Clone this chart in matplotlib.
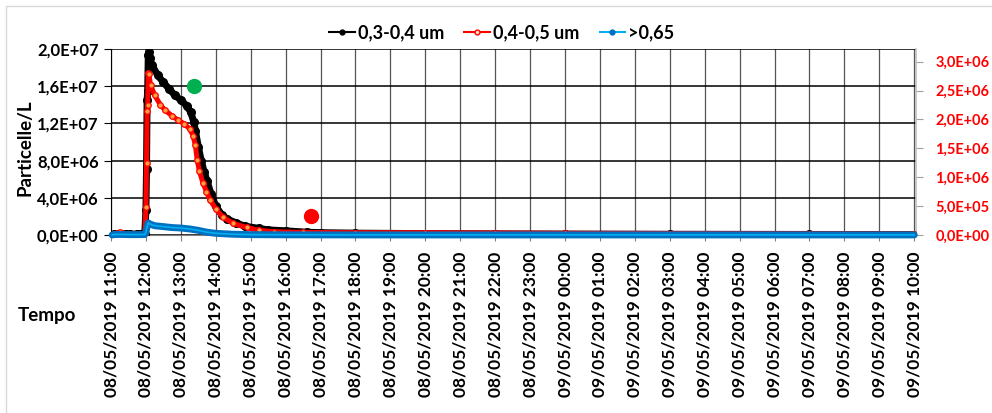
import numpy as np
import pandas as pd
import matplotlib
matplotlib.use("Agg")
import matplotlib.pyplot as plt
import matplotlib.dates as mdates
from matplotlib.lines import Line2D
from matplotlib.patches import Rectangle
from matplotlib.ticker import FuncFormatter

plt.rcParams["font.family"] = ["Lato", "DejaVu Sans"]
plt.rcParams["font.weight"] = "bold"

# ---------------------------------------------------------------- data
# 0,3-0,4 um (left axis, particelle/L)
t_small = ["08/05/2019 11:05", "08/05/2019 11:15", "08/05/2019 11:25", "08/05/2019 11:32",
           "08/05/2019 11:44", "08/05/2019 11:52", "08/05/2019 11:58", "08/05/2019 12:00",
           "08/05/2019 12:01", "08/05/2019 12:02", "08/05/2019 12:03", "08/05/2019 12:04",
           "08/05/2019 12:05", "08/05/2019 12:07", "08/05/2019 12:10", "08/05/2019 12:20",
           "08/05/2019 12:30", "08/05/2019 12:40", "08/05/2019 12:50", "08/05/2019 13:00",
           "08/05/2019 13:10", "08/05/2019 13:17", "08/05/2019 13:22", "08/05/2019 13:25",
           "08/05/2019 13:30", "08/05/2019 13:35", "08/05/2019 13:40", "08/05/2019 13:45",
           "08/05/2019 13:52", "08/05/2019 14:00", "08/05/2019 14:10", "08/05/2019 14:20",
           "08/05/2019 14:35", "08/05/2019 14:50", "08/05/2019 15:15", "08/05/2019 15:30",
           "08/05/2019 16:00", "08/05/2019 16:37", "08/05/2019 17:00", "08/05/2019 18:00",
           "08/05/2019 20:00", "08/05/2019 22:00", "09/05/2019 00:00", "09/05/2019 03:00",
           "09/05/2019 07:00", "09/05/2019 10:00"]
v_small = [1.0e5, 1.5e5, 1.2e5, 1.0e5,
           1.0e5, 1.2e5, 1.5e5, 2.7e6,
           7.1e6, 1.45e7, 1.55e7, 1.93e7,
           1.97e7, 1.90e7, 1.83e7, 1.72e7,
           1.64e7, 1.57e7, 1.50e7, 1.45e7,
           1.39e7, 1.32e7, 1.22e7, 1.12e7,
           9.5e6, 8.0e6, 6.8e6, 5.8e6,
           4.4e6, 3.1e6, 2.2e6, 1.7e6,
           1.3e6, 9.5e5, 7.0e5, 5.5e5,
           4.5e5, 3.0e5, 2.5e5, 2.0e5,
           1.5e5, 1.2e5, 1.0e5, 8.0e4,
           6.0e4, 5.0e4]

# 0,4-0,5 um (right axis)
t_mid = ["08/05/2019 11:05", "08/05/2019 11:15", "08/05/2019 11:25", "08/05/2019 11:32",
         "08/05/2019 11:44", "08/05/2019 11:58", "08/05/2019 12:00", "08/05/2019 12:01",
         "08/05/2019 12:02", "08/05/2019 12:03", "08/05/2019 12:04", "08/05/2019 12:05",
         "08/05/2019 12:08", "08/05/2019 12:15", "08/05/2019 12:25", "08/05/2019 12:33",
         "08/05/2019 12:45", "08/05/2019 12:55", "08/05/2019 13:05", "08/05/2019 13:15",
         "08/05/2019 13:21", "08/05/2019 13:25", "08/05/2019 13:28", "08/05/2019 13:32",
         "08/05/2019 13:38", "08/05/2019 13:44", "08/05/2019 13:50", "08/05/2019 14:00",
         "08/05/2019 14:12", "08/05/2019 14:30", "08/05/2019 14:53", "08/05/2019 15:15",
         "08/05/2019 15:40", "08/05/2019 16:30", "08/05/2019 18:00", "08/05/2019 20:00",
         "08/05/2019 22:00", "09/05/2019 00:00", "09/05/2019 04:00", "09/05/2019 10:00"]
v_mid = [2.0e4, 5.0e4, 2.0e4, 1.5e4,
         1.5e4, 2.0e4, 4.9e5, 1.25e6,
         2.15e6, 2.25e6, 2.80e6, 2.78e6,
         2.60e6, 2.42e6, 2.25e6, 2.16e6,
         2.06e6, 1.99e6, 1.93e6, 1.84e6,
         1.72e6, 1.55e6, 1.30e6, 1.10e6,
         9.0e5, 7.5e5, 6.1e5, 4.5e5,
         3.1e5, 2.0e5, 1.3e5, 8.0e4,
         5.5e4, 4.5e4, 4.0e4, 4.0e4,
         3.5e4, 3.0e4, 2.5e4, 2.0e4]

# >0,65 (left axis)
t_big = ["08/05/2019 11:02", "08/05/2019 11:05", "08/05/2019 11:15", "08/05/2019 11:25",
         "08/05/2019 11:33", "08/05/2019 11:44", "08/05/2019 11:58", "08/05/2019 12:00",
         "08/05/2019 12:02", "08/05/2019 12:04", "08/05/2019 12:08", "08/05/2019 12:15",
         "08/05/2019 12:30", "08/05/2019 12:45", "08/05/2019 13:00", "08/05/2019 13:15",
         "08/05/2019 13:30", "08/05/2019 13:45", "08/05/2019 14:00", "08/05/2019 14:30",
         "08/05/2019 15:00", "08/05/2019 16:00", "08/05/2019 18:00", "09/05/2019 10:00"]
v_big = [0.0, 5.0e4, 6.0e4, 5.0e4,
         4.0e4, 4.0e4, 5.0e4, 3.0e5,
         9.0e5, 1.3e6, 1.15e6, 1.0e6,
         9.0e5, 8.0e5, 7.5e5, 6.5e5,
         5.0e5, 3.0e5, 1.8e5, 8.0e4,
         4.0e4, 2.0e4, 1.0e4, 1.0e4]

# highlighted points
green_pt = ("08/05/2019 13:22", 1.6e7)
red_pt = ("08/05/2019 16:43", 2.0e6)

labels = ["0,3-0,4 um", "0,4-0,5 um", ">0,65"]

fmt = "%d/%m/%Y %H:%M"
ts = lambda s: pd.to_datetime(s, format=fmt)

BLACK = "#000000"
RED = "#ff0000"
ORANGE = "#ff9f40"
LBLUE = "#00b0f0"
DBLUE = "#0070c0"

# ---------------------------------------------------------------- figure
fig = plt.figure(figsize=(9.92, 4.13), dpi=100)
fig.patches.append(Rectangle((6 / 992, -0.1), 1.2, 1.1 - 6 / 413, transform=fig.transFigure,
                             fill=False, edgecolor="#d9d9d9", lw=1))

ax = fig.add_axes([0.1119, 0.431, 0.8115, 0.4504])
ax2 = ax.twinx()   # secondary scale for 0,4-0,5 um
ax3 = ax.twinx()   # primary scale again, drawn on top

x0 = ts("08/05/2019 11:00")
x1 = ts("09/05/2019 10:00") + pd.Timedelta(minutes=3)
for a in (ax, ax2, ax3):
    a.set_xlim(x0, x1)

ax.set_ylim(0, 2e7)
ax3.set_ylim(0, 2e7)
ax2.set_ylim(0, 3.22e6)

sci = FuncFormatter(lambda v, p: f"{v:.1E}".replace(".", ","))
ax.set_yticks(np.arange(0, 2.0e7 + 1, 4e6))
ax.yaxis.set_major_formatter(sci)
ax2.set_yticks(np.arange(0, 3.0e6 + 1, 5e5))
ax2.yaxis.set_major_formatter(sci)

ax.xaxis.set_major_locator(mdates.HourLocator(interval=1))
ax.xaxis.set_major_formatter(mdates.DateFormatter(fmt))
ax.tick_params(axis="x", labelrotation=90, labelsize=12.5, length=4, pad=8, color="#808080")
ax.tick_params(axis="y", labelsize=12, length=5, pad=4, color=BLACK)
ax2.tick_params(axis="y", labelsize=10.5, length=5, pad=9, color="#a0a0a0", labelcolor=RED)

ax.yaxis.grid(True, color=BLACK, lw=1.1)
ax.xaxis.grid(True, color="#555555", lw=0.9)
ax.set_axisbelow(True)

for s in ("top", "right"):
    ax.spines[s].set_visible(False)
ax.spines["left"].set_color(BLACK)
ax.spines["bottom"].set_color("#808080")
for s in ("top", "left", "bottom"):
    ax2.spines[s].set_visible(False)
ax2.spines["right"].set_color("#bfbfbf")
ax2.spines["right"].set_linewidth(1.2)
for s in ax3.spines.values():
    s.set_visible(False)
ax3.yaxis.set_visible(False)
ax2.xaxis.set_visible(False)
ax3.xaxis.set_visible(False)

# 0,3-0,4 um: lowest layer
ax.plot(ts(t_small), v_small, color=BLACK, lw=5, solid_capstyle="round", zorder=3)
ax.plot(ts(t_small), v_small, "o", ms=5.5, color=BLACK, zorder=3)

# 0,4-0,5 um on the secondary scale, above the black series
ax2.plot(ts(t_mid), v_mid, color=RED, lw=3.6, solid_capstyle="round", zorder=3)
ax2.plot(ts(t_mid), v_mid, "o", ms=4, mec=RED, mfc=ORANGE, mew=0.9, zorder=4)

# >0,65 on top; the dense markers spill a little below the zero line
ax3.plot(ts(t_big), v_big, color=DBLUE, lw=5, solid_capstyle="round", zorder=4,
         clip_on=False)
ax3.plot(ts(t_big), v_big, color=LBLUE, lw=1.2, zorder=5, clip_on=False)

ax3.plot(ts(green_pt[0]), green_pt[1], "o", ms=10, color="#00b050", zorder=6)
ax3.plot(ts(red_pt[0]), red_pt[1], "o", ms=10, color=RED, zorder=6)

fig.text(0.025, 1 - 148 / 413, "Particelle/L", rotation=90, ha="center", va="center",
         fontsize=13.5, fontweight="bold")
fig.text(0.047, 1 - 315 / 413, "Tempo", ha="center", va="center",
         fontsize=13.5, fontweight="bold")

handles = [
    Line2D([], [], color=BLACK, lw=1.5, marker="o", ms=3.5),
    Line2D([], [], color=RED, lw=1.5, marker="o", ms=3.5, mec=RED, mfc="#ffe0c0"),
    Line2D([], [], color=LBLUE, lw=1.5, marker="o", ms=3.5, mec=DBLUE, mfc=DBLUE),
]
fig.legend(handles, labels, loc="center", bbox_to_anchor=(0.506, 0.92), ncol=3,
           frameon=False, fontsize=13, handlelength=1.4, handletextpad=0.2,
           columnspacing=1.1)

fig.savefig("out.png", dpi=100)
